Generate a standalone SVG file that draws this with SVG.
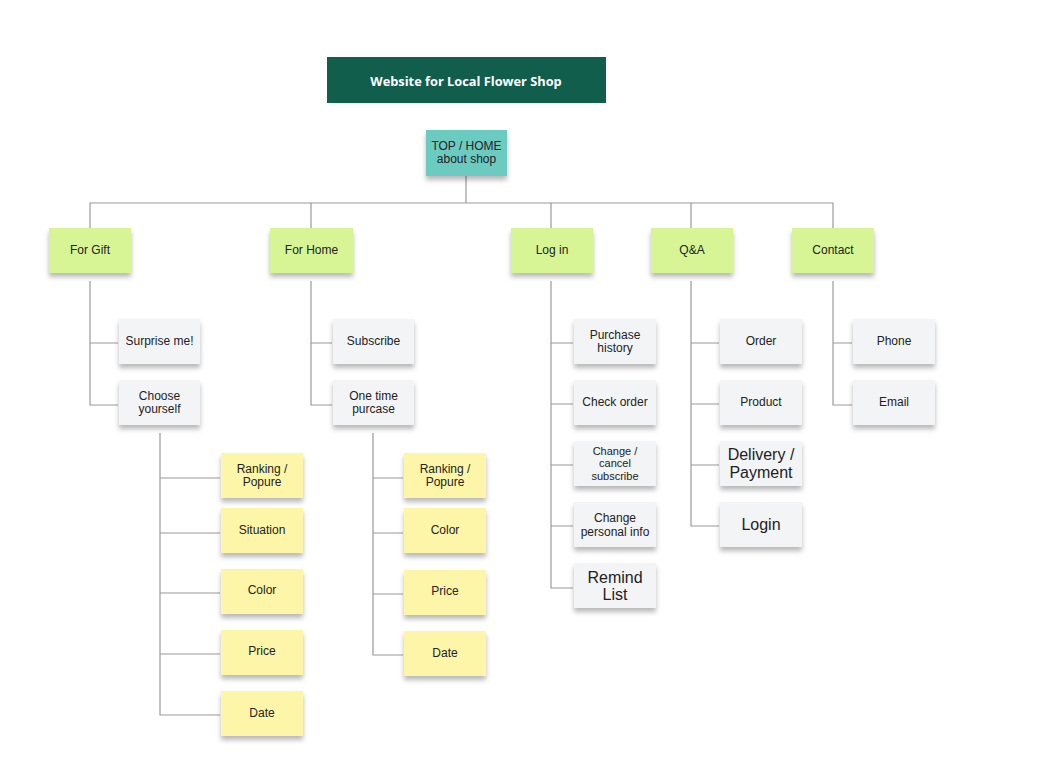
<svg xmlns="http://www.w3.org/2000/svg" width="1043" height="766" viewBox="0 0 1043 766">
<defs>
<filter id="sh" x="-20%" y="-20%" width="140%" height="160%">
<feDropShadow dx="0" dy="4" stdDeviation="2.5" flood-color="#000" flood-opacity="0.28"/>
</filter>
<style>
text{font-family:"Liberation Sans",Arial,sans-serif;fill:#222;text-anchor:middle;font-size:12px}
.title{font-family:"Open Sans","DejaVu Sans",sans-serif;font-weight:bold;fill:#fff;font-size:12.8px}
.teal{fill:#6ccbc1}
.green{fill:#d7f595}
.gray{fill:#f3f4f6}
.yellow{fill:#fdf6a8}
.note{filter:url(#sh)}
.big{font-size:16px}
.small{font-size:11px}
#connectors path{fill:none;stroke:#9a9a9a;stroke-width:1.2}
</style>
</defs>
<rect width="1043" height="766" fill="#fff"/>
<g id="connectors">
<path d="M466,176V203M90,229V203H833V229M311,203V229M551,203V229M691,203V229"/>
<path d="M90,281V405H118M90,343H118"/>
<path d="M311,281V405H332M311,343H332"/>
<path d="M551,281V588H573M551,343H573M551,404H573M551,465H573M551,526H573"/>
<path d="M691,281V526H719M691,343H719M691,404H719M691,465H719"/>
<path d="M833,281V405H852M833,343H852"/>
<path d="M160,433V715H220M160,478H220M160,533H220M160,593H220M160,654H220"/>
<path d="M373,433V655H403M373,478H403M373,533H403M373,594H403"/>
</g>
<g id="title"><rect x="327" y="57" width="279" height="46" fill="#125e4c"/><text class="title" x="466" y="86">Website for Local Flower Shop</text></g>
<g id="top"><rect class="teal note" x="426" y="130" width="81" height="46"/><text x="466.5" y="150">TOP / HOME</text><text x="466.5" y="163">about shop</text></g>

<g id="for-gift"><rect class="green note" x="49" y="228" width="82" height="45"/><text x="90" y="254">For Gift</text></g>
<g id="for-home"><rect class="green note" x="270" y="228" width="83" height="45"/><text x="311.5" y="254">For Home</text></g>
<g id="log-in"><rect class="green note" x="511" y="228" width="82" height="45"/><text x="552" y="254">Log in</text></g>
<g id="qa"><rect class="green note" x="651" y="228" width="82" height="45"/><text x="692" y="254">Q&amp;A</text></g>
<g id="contact"><rect class="green note" x="792" y="228" width="82" height="45"/><text x="833" y="254">Contact</text></g>

<g id="surprise"><rect class="gray note" x="119" y="319" width="81" height="45"/><text x="159.5" y="345">Surprise me!</text></g>
<g id="choose"><rect class="gray note" x="119" y="380" width="81" height="45"/><text x="159.5" y="400">Choose</text><text x="159.5" y="413">yourself</text></g>
<g id="subscribe"><rect class="gray note" x="333" y="319" width="81" height="45"/><text x="373.5" y="345">Subscribe</text></g>
<g id="onetime"><rect class="gray note" x="333" y="380" width="81" height="45"/><text x="373.5" y="400">One time</text><text x="373.5" y="413">purcase</text></g>

<g id="purchase-history"><rect class="gray note" x="574" y="319" width="82" height="45"/><text x="615" y="339">Purchase</text><text x="615" y="352">history</text></g>
<g id="check-order"><rect class="gray note" x="574" y="380" width="82" height="45"/><text x="615" y="406">Check order</text></g>
<g id="change-cancel"><rect class="gray note" x="574" y="441" width="82" height="45"/><text class="small" x="615" y="455">Change /</text><text class="small" x="615" y="467">cancel</text><text class="small" x="615" y="480">subscribe</text></g>
<g id="change-personal"><rect class="gray note" x="574" y="502" width="82" height="45"/><text x="615" y="522">Change</text><text x="615" y="536">personal info</text></g>
<g id="remind"><rect class="gray note" x="574" y="563" width="82" height="45"/><text class="big" x="615" y="583">Remind</text><text class="big" x="615" y="600">List</text></g>

<g id="order"><rect class="gray note" x="720" y="319" width="82" height="45"/><text x="761" y="345">Order</text></g>
<g id="product"><rect class="gray note" x="720" y="380" width="82" height="45"/><text x="761" y="406">Product</text></g>
<g id="delivery"><rect class="gray note" x="720" y="441" width="82" height="45"/><text class="big" x="761" y="460">Delivery /</text><text class="big" x="761" y="478">Payment</text></g>
<g id="login"><rect class="gray note" x="720" y="502" width="82" height="45"/><text class="big" x="761" y="530">Login</text></g>

<g id="phone"><rect class="gray note" x="853" y="319" width="82" height="45"/><text x="894" y="345">Phone</text></g>
<g id="email"><rect class="gray note" x="853" y="380" width="82" height="45"/><text x="894" y="406">Email</text></g>

<g id="g-ranking"><rect class="yellow note" x="221" y="453" width="82" height="45"/><text x="262" y="473">Ranking /</text><text x="262" y="486">Popure</text></g>
<g id="g-situation"><rect class="yellow note" x="221" y="508" width="82" height="45"/><text x="262" y="534">Situation</text></g>
<g id="g-color"><rect class="yellow note" x="221" y="569" width="82" height="45"/><text x="262" y="594">Color</text></g>
<g id="g-price"><rect class="yellow note" x="221" y="630" width="82" height="45"/><text x="262" y="655">Price</text></g>
<g id="g-date"><rect class="yellow note" x="221" y="691" width="82" height="45"/><text x="262" y="717">Date</text></g>

<g id="h-ranking"><rect class="yellow note" x="404" y="453" width="82" height="45"/><text x="445" y="473">Ranking /</text><text x="445" y="486">Popure</text></g>
<g id="h-color"><rect class="yellow note" x="404" y="508" width="82" height="45"/><text x="445" y="534">Color</text></g>
<g id="h-price"><rect class="yellow note" x="404" y="570" width="82" height="45"/><text x="445" y="595">Price</text></g>
<g id="h-date"><rect class="yellow note" x="404" y="631" width="82" height="45"/><text x="445" y="657">Date</text></g>
</svg>
